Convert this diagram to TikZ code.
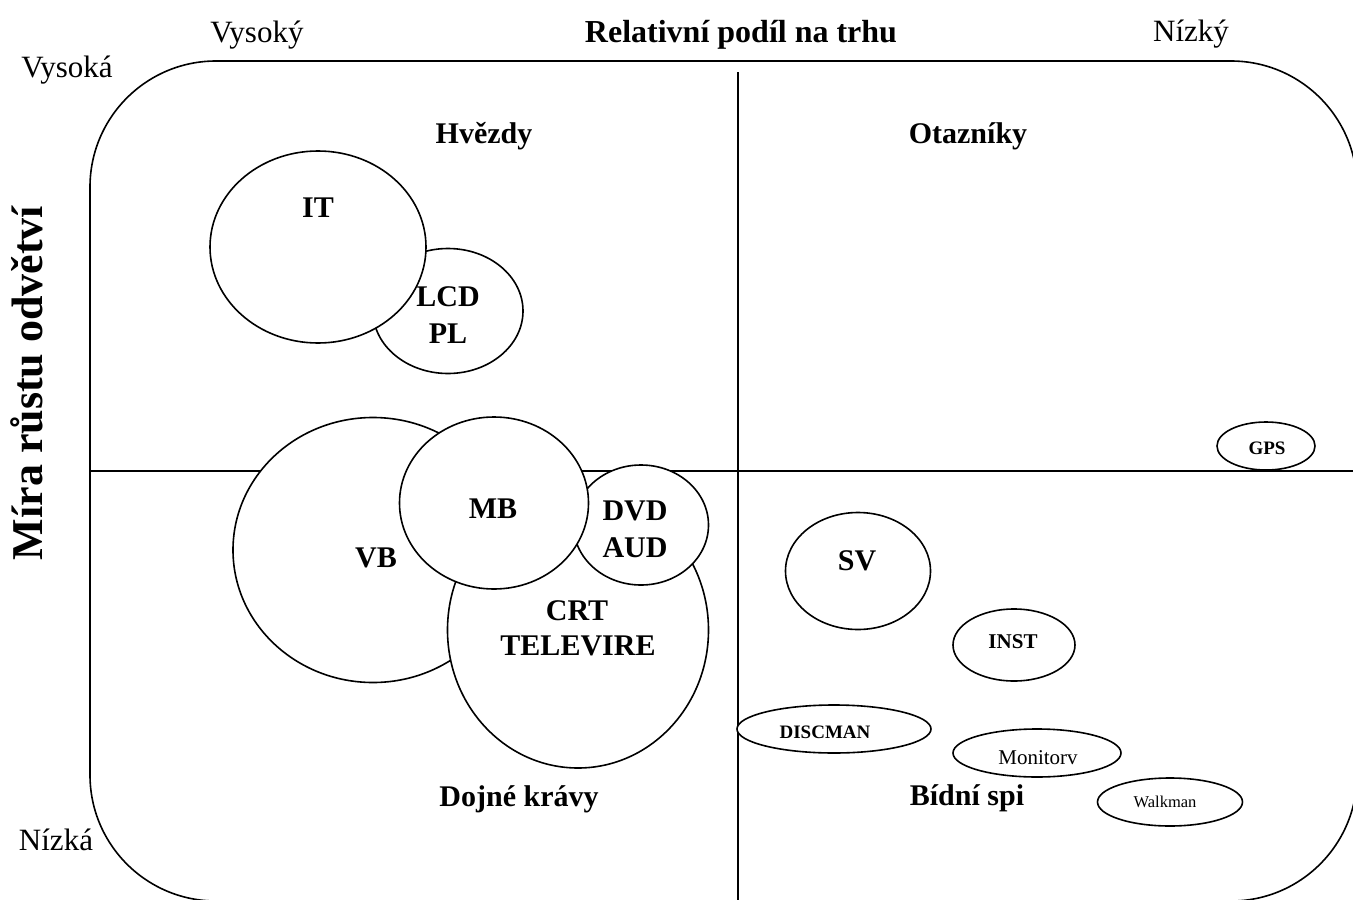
\documentclass[tikz,border=0pt]{standalone}
\usepackage{fontspec}
\setmainfont{Liberation Serif}
\usetikzlibrary{shapes.geometric}
\begin{document}
\begin{tikzpicture}[x=1pt,y=-1pt,
  frame/.style={line width=1.6pt},
  bub/.style={ellipse, draw, fill=white, line width=1.6pt, inner sep=0pt},
  bl/.style={font=\bfseries\fontsize{30}{35}\selectfont, anchor=base, inner sep=0pt},
  rl/.style={font=\fontsize{31}{36}\selectfont, anchor=base, inner sep=0pt}]
\useasboundingbox (0,0) rectangle (1353,900);
\clip (0,0) rectangle (1353,900);
% outer rounded frame
\draw[frame, rounded corners=126pt] (90,61) rectangle (1357,901);
% axes
\coordinate (vtop) at (738,72);
\coordinate (vbot) at (738,905);
\coordinate (hl) at (90,471);
\coordinate (hr) at (1360,471);
\draw[frame] (vtop) -- (vbot);
\draw[frame] (hl) -- (hr);
% bubbles
\node[bub, minimum width=150pt, minimum height=125pt] (lcdE) at (448,311) {};
\node[bub, minimum width=216pt, minimum height=192pt] (itE) at (318,247) {};
\node[bub, minimum width=280pt, minimum height=265pt] (vbE) at (373,550) {};
\node[bub, minimum width=261pt, minimum height=276pt] (crtE) at (578,630) {};
\node[bub, minimum width=135pt, minimum height=120pt] (dvdE) at (641,525) {};
\node[bub, minimum width=189pt, minimum height=172pt] (mbE) at (494,503) {};
\node[bub, minimum width=145pt, minimum height=117pt] (svE) at (858,571) {};
\node[bub, minimum width=122pt, minimum height=72pt] (instE) at (1014,645) {};
\node[bub, minimum width=98pt, minimum height=48pt] (gpsE) at (1266,446) {};
\node[bub, minimum width=194pt, minimum height=48pt] (discE) at (834,729) {};
\node[bub, minimum width=168pt, minimum height=48pt] (monE) at (1037,753) {};
\node[bub, minimum width=145pt, minimum height=48pt] (walkE) at (1170,802) {};
% outer labels
\node[rl] (vysoky) at (257,42) {Vysoký};
\node[bl, font=\bfseries\fontsize{32}{36}\selectfont] (relpod) at (741,42) {Relativní podíl na trhu};
\node[rl] (nizky) at (1191,41) {Nízký};
\node[rl] (vysoka) at (67,77) {Vysoká};
\node[rl] (nizka) at (56,850) {Nízká};
\node[bl, font=\bfseries\fontsize{44}{48}\selectfont, rotate=90] (mira) at (42,383) {Míra růstu odvětví};
% quadrant labels
\node[bl] (hvezdy) at (484,143) {Hvězdy};
\node[bl] (otazniky) at (968,143) {Otazníky};
\node[bl] (dojne) at (519,806) {Dojné krávy};
\node[bl] (bidni) at (967,805) {Bídní spi};
% bubble labels
\node[bl] (itT) at (318,217) {IT};
\node[bl] (lcdT) at (448,306) {LCD};
\node[bl] (plT) at (448,343) {PL};
\node[bl] (mbT) at (493,518) {MB};
\node[bl] (vbT) at (376,567) {VB};
\node[bl] (dvdT) at (635,520) {DVD};
\node[bl] (audT) at (635,557) {AUD};
\node[bl] (crtT) at (577,620) {CRT};
\node[bl] (telT) at (578,655) {TELEVIRE};
\node[bl] (svT) at (857,570) {SV};
\node[bl, font=\bfseries\fontsize{21}{25}\selectfont] (instT) at (1013,648) {INST};
\node[bl, font=\bfseries\fontsize{19}{23}\selectfont] (gpsT) at (1267,454) {GPS};
\node[bl, font=\bfseries\fontsize{19}{23}\selectfont] (discT) at (825,738) {DISCMAN};
\node[rl, font=\fontsize{21}{25}\selectfont] (monT) at (1038,764) {Monitorv};
\node[rl, font=\fontsize{16.5}{20}\selectfont] (walkT) at (1165,807) {Walkman};
\end{tikzpicture}
\end{document}
